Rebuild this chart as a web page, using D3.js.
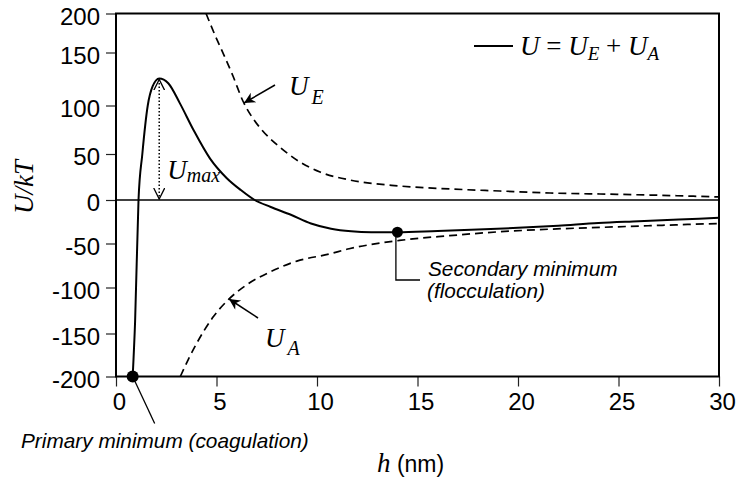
<!DOCTYPE html>
<html>
<head>
<meta charset="utf-8">
<script src="https://cdn.jsdelivr.net/npm/d3@7"></script>
<style>
  html, body { margin: 0; padding: 0; background: #fff; }
  svg { display: block; }
</style>
</head>
<body>
<svg id="chart" width="739" height="479"></svg>
<script>
// Interaction energy profiles, U/kT against separation h (nm)
const xTicks = [0, 5, 10, 15, 20, 25, 30];
const yTicks = [-200, -150, -100, -50, 0, 50, 100, 150, 200];

// Total potential U = U_E + U_A
const totalH = [0.83, 0.95, 1.12, 1.31, 1.58, 1.82, 2.15, 2.6, 3.18, 3.85, 4.68, 5.5, 6.2, 6.9, 7.7, 8.7, 9.7, 10.7, 11.7, 12.7, 14, 16, 18, 20, 22, 24, 26, 28, 30];
const totalU = [-200, -137, 0, 50, 100, 118, 125.5, 121, 102, 75, 45, 24, 11, 0, -8, -17, -27, -33, -36, -37, -37, -35.5, -34, -32, -29.5, -26.5, -24.5, -22.5, -20.5];

// Electrostatic repulsion U_E
const repH = [4.48, 4.93, 5.37, 5.82, 6.32, 6.77, 7.26, 8.16, 9.15, 10.15, 11.64, 14.13, 16.62, 19.1, 21.6, 24.08, 26.57, 30];
const repU = [200, 172, 147.6, 127.8, 104, 88, 74.7, 57, 41.3, 30.4, 21.7, 15.2, 12, 9.8, 7.6, 6.5, 5.4, 3.3];

// Van der Waals attraction U_A
const attH = [3.2, 3.6, 4.0, 4.8, 5.6, 6.5, 7.7, 9, 10.6, 11.6, 14.1, 16.6, 19.1, 21.6, 24.1, 26.6, 30];
const attU = [-200, -180, -162, -133, -113, -97, -82, -70, -62, -56, -46.5, -41, -36.5, -33.5, -31.5, -29.5, -27];

// Marked points
const peak = { h: 2.15, u: 125.5 };
const primaryMin = { h: 0.83, u: -200 };
const secondaryMin = { h: 14.0, u: -37 };

const SERIF = "'Liberation Serif', 'Times New Roman', serif";
const SANS = "'Liberation Sans', Arial, sans-serif";

const svg = d3.select("#chart");

const x = d3.scaleLinear().domain([0, 30]).range([116, 719]);
const y = d3.scaleLinear()
  .domain(yTicks)
  .range([376.5, 333.5, 287.5, 243.5, 200, 154, 105.5, 52.5, 13.5]);

const defs = svg.append("defs");
defs.append("clipPath").attr("id", "plot-clip")
  .append("rect")
  .attr("x", x(0)).attr("y", y(200))
  .attr("width", x(30) - x(0)).attr("height", y(-200) - y(200));

// filled arrow head for label pointers
defs.append("marker")
  .attr("id", "solid-head")
  .attr("viewBox", "0 0 10 10")
  .attr("refX", 10).attr("refY", 5)
  .attr("markerWidth", 18).attr("markerHeight", 11)
  .attr("markerUnits", "userSpaceOnUse")
  .attr("orient", "auto")
  .append("path").attr("d", "M0,0 L10,5 L0,10 L3,5 Z").attr("fill", "#000");

// open chevron head for the U_max span
defs.append("marker")
  .attr("id", "open-head")
  .attr("viewBox", "0 0 12 12")
  .attr("refX", 11).attr("refY", 6)
  .attr("markerWidth", 12).attr("markerHeight", 12)
  .attr("markerUnits", "userSpaceOnUse")
  .attr("orient", "auto-start-reverse")
  .append("path").attr("d", "M0,0.5 L11,6 L0,11.5")
  .attr("fill", "none").attr("stroke", "#000").attr("stroke-width", 1.3);

// Axes
const hyphenInt = d => String(d);
const xAxis = d3.axisBottom(x).tickValues(xTicks).tickSize(10).tickPadding(6).tickFormat(hyphenInt);
const yAxis = d3.axisLeft(y).tickValues(yTicks).tickSize(10).tickPadding(6).tickFormat(hyphenInt);

const gx = svg.append("g").attr("transform", `translate(0,${y(-200)})`).call(xAxis);
const gy = svg.append("g").attr("transform", `translate(${x(0)},0)`).call(yAxis);
[gx, gy].forEach(g => {
  g.select(".domain").remove();
  g.selectAll(".tick line").attr("stroke", "#222").attr("stroke-width", 1.2);
  g.selectAll(".tick text")
    .attr("font-family", SANS).attr("font-size", 24).attr("fill", "#000");
});
gx.selectAll(".tick text").attr("dx", 3).attr("dy", "0.72em");
gy.selectAll(".tick text").attr("dy", "0.45em");

// Frame
svg.append("rect")
  .attr("x", x(0)).attr("y", y(200))
  .attr("width", x(30) - x(0)).attr("height", y(-200) - y(200))
  .attr("fill", "none").attr("stroke", "#000").attr("stroke-width", 2);

// Zero line
svg.append("line")
  .attr("x1", x(0)).attr("x2", x(30))
  .attr("y1", y(0)).attr("y2", y(0))
  .attr("stroke", "#000").attr("stroke-width", 1.6);

const plot = svg.append("g").attr("clip-path", "url(#plot-clip)");
const line = d3.line().x(d => x(d[0])).y(d => y(d[1])).curve(d3.curveMonotoneX);

plot.append("path")
  .datum(d3.zip(repH, repU))
  .attr("d", line)
  .attr("fill", "none").attr("stroke", "#000").attr("stroke-width", 1.7)
  .attr("stroke-dasharray", "8,5");

plot.append("path")
  .datum(d3.zip(attH, attU))
  .attr("d", line)
  .attr("fill", "none").attr("stroke", "#000").attr("stroke-width", 1.7)
  .attr("stroke-dasharray", "8,5");

plot.append("path")
  .datum(d3.zip(totalH, totalU))
  .attr("d", line)
  .attr("fill", "none").attr("stroke", "#000").attr("stroke-width", 2);

// U_max: dotted double-headed span from the barrier top to zero
svg.append("line")
  .attr("x1", x(peak.h)).attr("x2", x(peak.h))
  .attr("y1", y(peak.u) + 1).attr("y2", y(0) - 1)
  .attr("stroke", "#000").attr("stroke-width", 1.5)
  .attr("stroke-dasharray", "1.5,2")
  .attr("marker-start", "url(#open-head)")
  .attr("marker-end", "url(#open-head)");

const umax = svg.append("text")
  .attr("x", x(peak.h) + 8).attr("y", y(0) - 21)
  .attr("font-family", SERIF).attr("font-style", "italic").attr("font-size", 27);
umax.append("tspan").text("U");
umax.append("tspan").attr("font-size", 20).attr("dy", 3).text("max");

// Marker dots
svg.append("circle").attr("cx", x(primaryMin.h)).attr("cy", y(primaryMin.u)).attr("r", 6).attr("fill", "#000");
svg.append("circle").attr("cx", x(secondaryMin.h)).attr("cy", y(secondaryMin.u)).attr("r", 5.5).attr("fill", "#000");

// Primary minimum callout
svg.append("line")
  .attr("x1", x(primaryMin.h)).attr("y1", y(primaryMin.u))
  .attr("x2", x(primaryMin.h) + 22).attr("y2", y(primaryMin.u) + 47)
  .attr("stroke", "#000").attr("stroke-width", 1.3);
svg.append("text")
  .attr("x", 21).attr("y", 448)
  .attr("font-family", SANS).attr("font-style", "italic").attr("font-size", 20.8)
  .text("Primary minimum (coagulation)");

// Secondary minimum callout
svg.append("path")
  .attr("d", `M${x(secondaryMin.h) - 1.5},${y(secondaryMin.u)} V280 H420`)
  .attr("fill", "none").attr("stroke", "#000").attr("stroke-width", 1.3);
const sec = svg.append("text")
  .attr("font-family", SANS).attr("font-style", "italic").attr("font-size", 20.8);
sec.append("tspan").attr("x", 428).attr("y", 276).text("Secondary minimum");
sec.append("tspan").attr("x", 427).attr("y", 298).text("(flocculation)");

// U_E label and pointer
svg.append("line")
  .attr("x1", 275).attr("y1", 85).attr("x2", 244).attr("y2", 103)
  .attr("stroke", "#000").attr("stroke-width", 1.5)
  .attr("marker-end", "url(#solid-head)");
const ue = svg.append("text")
  .attr("x", 289).attr("y", 95)
  .attr("font-family", SERIF).attr("font-style", "italic").attr("font-size", 27);
ue.append("tspan").text("U");
ue.append("tspan").attr("font-size", 20).attr("dx", 3).attr("dy", 9).text("E");

// U_A label and pointer
svg.append("line")
  .attr("x1", 258).attr("y1", 318).attr("x2", 229).attr("y2", 299)
  .attr("stroke", "#000").attr("stroke-width", 1.5)
  .attr("marker-end", "url(#solid-head)");
const ua = svg.append("text")
  .attr("x", 265).attr("y", 347)
  .attr("font-family", SERIF).attr("font-style", "italic").attr("font-size", 27);
ua.append("tspan").text("U");
ua.append("tspan").attr("font-size", 20).attr("dx", 3).attr("dy", 8).text("A");

// Legend
svg.append("line")
  .attr("x1", 474).attr("x2", 513).attr("y1", 46).attr("y2", 46)
  .attr("stroke", "#000").attr("stroke-width", 2);
const leg = svg.append("text")
  .attr("x", 520).attr("y", 55)
  .attr("font-family", SERIF).attr("font-size", 27);
leg.append("tspan").attr("font-style", "italic").text("U");
leg.append("tspan").text(" = ");
leg.append("tspan").attr("font-style", "italic").text("U");
leg.append("tspan").attr("font-style", "italic").attr("font-size", 19).attr("dy", 5).text("E");
leg.append("tspan").attr("dy", -5).text(" + ");
leg.append("tspan").attr("font-style", "italic").text("U");
leg.append("tspan").attr("font-style", "italic").attr("font-size", 19).attr("dy", 5).text("A");

// Axis titles
svg.append("text")
  .attr("transform", "translate(33,187) rotate(-90)")
  .attr("text-anchor", "middle")
  .attr("font-family", SERIF).attr("font-style", "italic").attr("font-size", 27)
  .text("U/kT");

const xt = svg.append("text")
  .attr("x", 377).attr("y", 472)
  .attr("font-family", SERIF).attr("font-size", 27);
xt.append("tspan").attr("font-style", "italic").text("h");
xt.append("tspan").attr("font-family", SANS).attr("font-size", 23).text(" (nm)");
</script>
</body>
</html>
